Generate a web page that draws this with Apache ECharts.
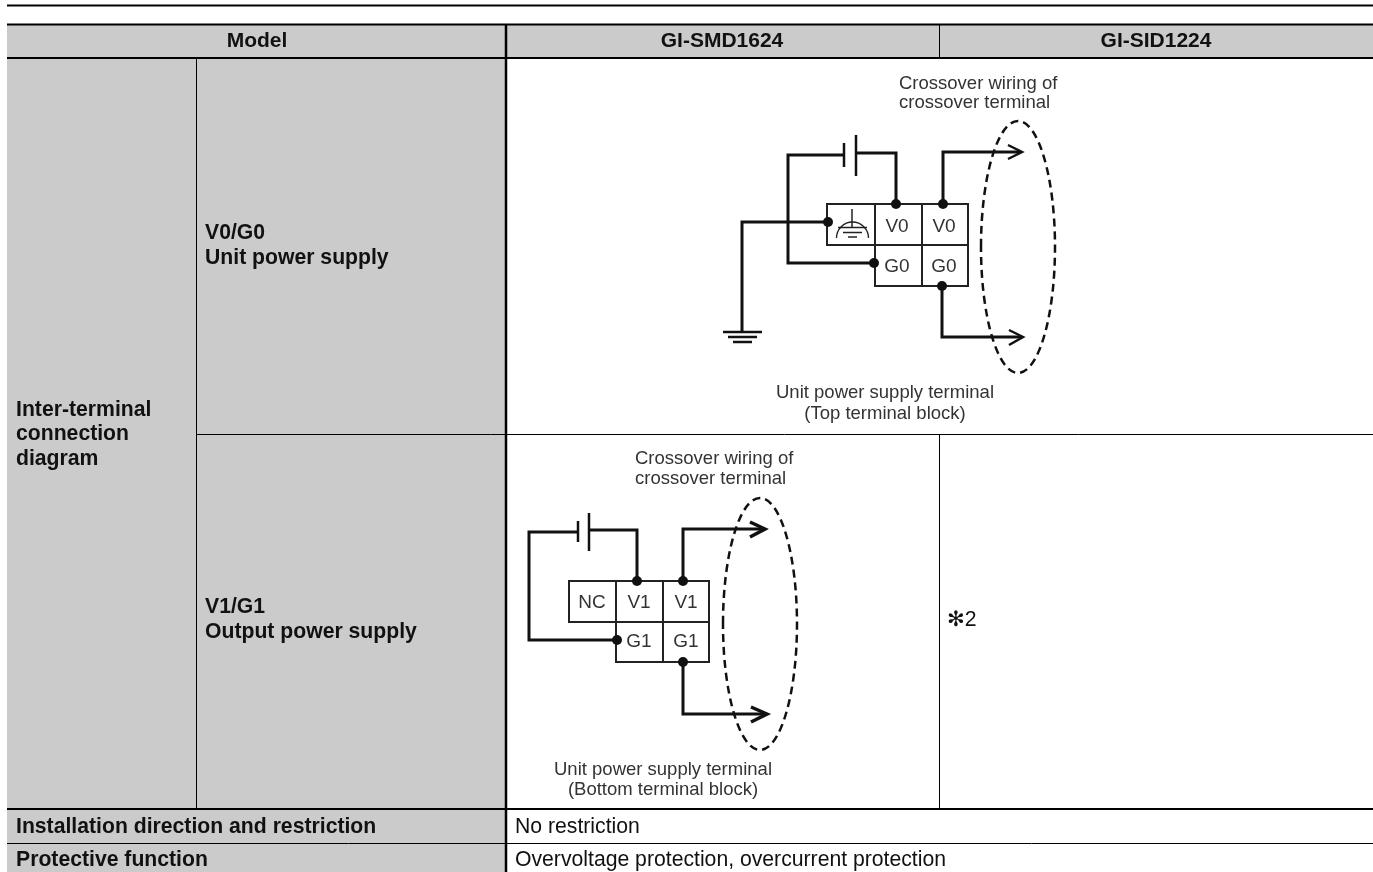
<!DOCTYPE html>
<html>
<head>
<meta charset="utf-8">
<style>html,body{margin:0;padding:0;background:#fff}#c{width:1373px;height:872px}</style>
<script src="https://cdn.jsdelivr.net/npm/echarts@6/dist/echarts.min.js"></script>
</head>
<body>
<div id="c"></div>
<script>
// ---- Content (text) ----
const modelHeader = ['Model', 'GI-SMD1624', 'GI-SID1224'];
const groupLabel = ['Inter-terminal', 'connection', 'diagram'];
const supplyTop = ['V0/G0', 'Unit power supply'];
const supplyBottom = ['V1/G1', 'Output power supply'];
const rowNames = ['Installation direction and restriction', 'Protective function'];
const rowValues = ['No restriction', 'Overvoltage protection, overcurrent protection'];
const footnote = '\u273B2';
const crossover = ['Crossover wiring of', 'crossover terminal'];
const unitTop = ['Unit power supply terminal', '(Top terminal block)'];
const unitBottom = ['Unit power supply terminal', '(Bottom terminal block)'];
const terminalsTop = ['V0', 'V0', 'G0', 'G0'];
const terminalsBottom = ['NC', 'V1', 'V1', 'G1', 'G1'];

// ---- Geometry, drawn through the axes ----
const greyCells = [[7,25,1373,58],[7,58,505,872]];
const tableThick = [[7,5.5,1373,5.5],[7,24.5,1373,24.5],[7,58,1373,58],[7,809,1373,809]];
const tableDivider = [[506,24,506,872]];
const tableThin = [[939.5,25,939.5,58],[939.5,434,939.5,809],[196.5,58,196.5,810],[196,434.5,1373,434.5],[7,843.5,1373,843.5]];
const boxes = [
  [827,204,968,204],[827,204,827,245],[827,245,968,245],[875,204,875,286],[922,204,922,286],[968,204,968,286],[875,286,968,286],
  [569,581,709,581],[569,581,569,622],[569,622,709,622],[616,581,616,662],[663,581,663,662],[709,581,709,662],[616,662,709,662]
];
const wires = [
  [896,204,896,153,856,153],[844,155,788,155,788,263,874,263],[828,222,742,222,742,332],
  [943,204,943,152,1021,152],[942,286,942,337,1022,337],
  [637,581,637,530,589,530],[578,532,529,532,529,640,617,640],
  [683,581,683,529,764,529],[683,662,683,714,766,714]
];
const arrowHeadsTop = [[1008,145,1022,152,1008,159],[1009,330,1023,337,1009,345]];
const arrowHeadsBottom = [[750,522,765,529,750,537],[751,707,767,714,751,722]];
const plates = [[856,135,856,176],[844,143,844,167],[589,513,589,551],[578,521,578,542],[723,332,762,332],[728,337,757,337],[733,342,752,342]];
const earthMark = [[852,209,852,228],[838,227.5,867,227.5],[843,232.5,862,232.5],[848,237,857,237]];
const dots = [[896,204],[943,204],[828,222],[874,263],[942,286],[637,581],[683,581],[617,640],[683,662]];
const domes = [[852.5,238,16]];
const loops = [[1018,247,37,126],[760,624,37,126]];

const textItems = [
  [257,41,modelHeader[0],'b'],[722,41,modelHeader[1],'b'],[1156,41,modelHeader[2],'b'],
  [16,410,groupLabel[0],'bl'],[16,434,groupLabel[1],'bl'],[16,459,groupLabel[2],'bl'],
  [205,233,supplyTop[0],'bl'],[205,258,supplyTop[1],'bl'],
  [205,607,supplyBottom[0],'bl'],[205,632,supplyBottom[1],'bl'],
  [16,827,rowNames[0],'bl'],[16,860,rowNames[1],'bl'],
  [515,827,rowValues[0],'rl'],[515,860,rowValues[1],'rl'],
  [947,620,footnote,'rl'],
  [899,84,crossover[0],'dl'],[899,103,crossover[1],'dl'],
  [885,393,unitTop[0],'d'],[885,414,unitTop[1],'d'],
  [635,459,crossover[0],'dl'],[635,479,crossover[1],'dl'],
  [663,770,unitBottom[0],'d'],[663,790,unitBottom[1],'d'],
  [897,227,terminalsTop[0],'t'],[944,227,terminalsTop[1],'t'],[897,267,terminalsTop[2],'t'],[944,267,terminalsTop[3],'t'],
  [592,603,terminalsBottom[0],'t'],[639,603,terminalsBottom[1],'t'],[686,603,terminalsBottom[2],'t'],[639,642,terminalsBottom[3],'t'],[686,642,terminalsBottom[4],'t']
];
const fontFamily = '"Liberation Sans", Arial, "DejaVu Sans", sans-serif';
const textStyles = {
  b:{font:'bold 21px '+fontFamily,fill:'#111',textAlign:'center'},
  bl:{font:'bold 21.2px '+fontFamily,fill:'#111',textAlign:'left'},
  rl:{font:'21.2px '+fontFamily,fill:'#111',textAlign:'left'},
  d:{font:'18.5px '+fontFamily,fill:'#333',textAlign:'center'},
  dl:{font:'18.5px '+fontFamily,fill:'#333',textAlign:'left'},
  t:{font:'19px '+fontFamily,fill:'#333',textAlign:'center'}
};

function pts(api, flat){const out=[];for(let i=0;i<flat.length;i+=2)out.push(api.coord([flat[i],flat[i+1]]));return out;}
function idx(a){return a.map((_,i)=>[i]);}
function custom(arr, render){
  return {type:'custom',coordinateSystem:'cartesian2d',silent:true,clip:false,animation:false,
    data:idx(arr),encode:{x:0,y:0},renderItem:(p,api)=>render(arr[p.dataIndex],api)};
}
function polySeries(arr,color,width,cap){
  return custom(arr,(g,api)=>({type:'polyline',shape:{points:pts(api,g)},
    style:{fill:null,stroke:color,lineWidth:width,lineCap:cap||'butt',lineJoin:'miter'}}));
}

const chart = echarts.init(document.getElementById('c'),null,{renderer:'canvas'});
chart.setOption({
  animation:false,
  backgroundColor:'#fff',
  grid:{left:0,right:0,top:0,bottom:0},
  xAxis:{type:'value',min:0,max:1373,show:false},
  yAxis:{type:'value',min:0,max:872,inverse:true,show:false},
  tooltip:{show:false},
  series:[
    custom(greyCells,(g,api)=>{const [a,b]=pts(api,g);return {type:'rect',
      shape:{x:a[0],y:a[1],width:b[0]-a[0],height:b[1]-a[1]},style:{fill:'#cbcbcb'}};}),
    polySeries(tableThin,'#000',1),
    polySeries(tableThick,'#000',2),
    polySeries(tableDivider,'#000',2.5),
    polySeries(boxes,'#222',2,'square'),
    polySeries(earthMark,'#222',1.5),
    custom(domes,(g,api)=>{const c=api.coord([g[0],g[1]]);return {type:'arc',
      shape:{cx:c[0],cy:c[1],r:g[2],startAngle:Math.PI,endAngle:2*Math.PI,clockwise:true},
      style:{fill:null,stroke:'#222',lineWidth:1.3}};}),
    polySeries(plates,'#111',2.5),
    polySeries(wires,'#111',3),
    polySeries(arrowHeadsTop,'#111',2.5),
    polySeries(arrowHeadsBottom,'#111',3.5),
    custom(dots,(g,api)=>{const c=api.coord(g);return {type:'circle',shape:{cx:c[0],cy:c[1],r:5},style:{fill:'#111'}};}),
    custom(loops,(g,api)=>{const c=api.coord([g[0],g[1]]);return {type:'ellipse',
      shape:{cx:c[0],cy:c[1],rx:g[2],ry:g[3]},style:{fill:null,stroke:'#111',lineWidth:2.5,lineDash:[8,5]}};}),
    custom(textItems,(g,api)=>{const c=api.coord([g[0],g[1]]);const s=textStyles[g[3]];return {type:'text',
      style:{x:c[0],y:c[1],text:g[2],font:s.font,fill:s.fill,textAlign:s.textAlign,textVerticalAlign:'middle'}};})
  ]
});
</script>
</body>
</html>
